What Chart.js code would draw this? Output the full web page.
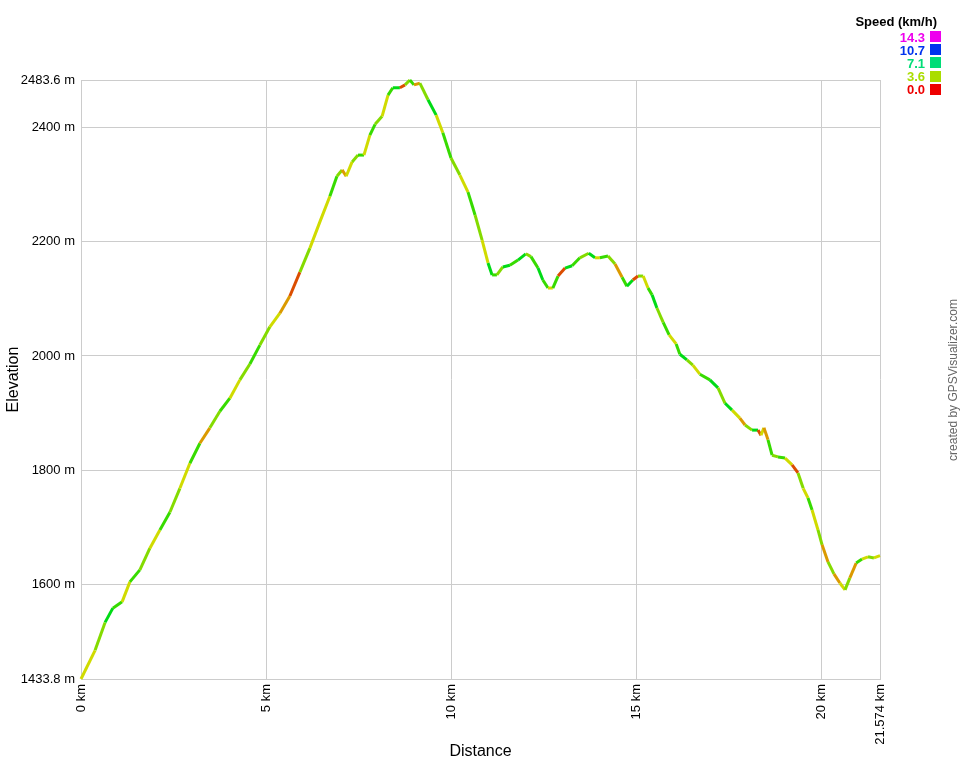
<!DOCTYPE html>
<html>
<head>
<meta charset="utf-8">
<script src="https://cdn.jsdelivr.net/npm/chart.js@4"></script>
<style>
  html, body { margin: 0; padding: 0; background: #fff; }
  #wrap { width: 960px; height: 760px; }
</style>
</head>
<body>
<div id="wrap"><canvas id="myChart" width="960" height="760"></canvas></div>
<script>
// distance along the track (km)
var distKm = [0,0.38,0.65,0.86,1.11,1.32,1.59,1.86,2.13,2.40,
  2.67,2.94,3.21,3.48,3.75,4.02,4.29,4.56,4.83,5.10,
  5.37,5.64,5.91,6.18,6.45,6.72,6.91,7.05,7.16,7.32,
  7.48,7.64,7.80,7.94,8.13,8.29,8.42,8.61,8.75,8.88,
  8.99,9.15,9.37,9.59,9.77,9.99,10.23,10.45,10.64,10.83,
  10.99,11.10,11.23,11.39,11.58,11.80,12.01,12.15,12.34,12.47,
  12.61,12.74,12.88,13.07,13.26,13.47,13.71,13.88,14.01,14.23,
  14.42,14.61,14.74,14.90,15.04,15.18,15.31,15.42,15.55,15.72,
  15.88,16.07,16.17,16.36,16.52,16.71,16.98,17.20,17.39,17.58,
  17.79,17.93,18.12,18.28,18.36,18.44,18.55,18.66,18.82,19.01,
  19.20,19.36,19.50,19.63,19.74,19.90,20.01,20.17,20.33,20.49,
  20.63,20.76,20.93,21.09,21.25,21.41,21.574];

// elevation (m)
var elevM = [1433.8,1484,1533,1558,1569,1604,1625,1663,1695,1726,
  1768,1812,1847,1874,1903,1926,1958,1986,2019,2051,
  2075,2105,2147,2189,2235,2280,2315,2326,2315,2340,
  2352,2352,2387,2406,2420,2457,2470,2470,2475,2483.6,
  2475,2478,2449,2422,2391,2347,2317,2287,2247,2203,
  2163,2142,2142,2156,2159,2168,2179,2174,2154,2133,
  2119,2119,2140,2154,2158,2172,2180,2172,2172,2175,
  2161,2138,2122,2133,2140,2140,2119,2107,2084,2059,
  2037,2021,2003,1993,1984,1968,1958,1944,1917,1905,
  1891,1879,1870,1870,1861,1874,1853,1826,1823,1821,
  1809,1795,1768,1751,1730,1695,1669,1639,1618,1602,
  1590,1611,1637,1644,1648,1646,1650];

// speed (km/h) at each point, used for line colour
var speedKmh = [5,3,4,6,5,3,5,4,3,5,
  4,3,5,2,4,5,3,4,5,4,
  3,2,1,4,3,3,5,4,2,3,
  4,5,3,5,4,3,5,6,1,4,
  5,2,4,6,3,5,4,3,5,4,
  3,6,5,4,6,5,6,4,5,6,
  5,3,5,1,6,5,4,6,3,5,
  4,2,5,6,1,4,3,5,6,4,
  5,3,5,6,4,3,5,6,4,6,
  3,2,4,6,1,3,2,5,4,5,
  3,1,4,3,5,3,4,2,4,2,
  3,4,2,5,3,4,3];

var xTicks = [0, 5, 10, 15, 20, 21.574];
var yTicks = [1433.8, 1600, 1800, 2000, 2200, 2400, 2483.6];

var legendLabels = ['14.3', '10.7', '7.1', '3.6', '0.0'];
var legendColors = ['#ee00ee', '#0033ee', '#00dd77', '#aadd00', '#ee0000'];

var FONT = '"Liberation Sans", Arial, sans-serif';

function speedColor(s) {
  var hue = Math.max(0, Math.min(300, s * 21));
  return 'hsl(' + hue + ',100%,43%)';
}

var points = distKm.map(function (d, i) { return { x: d, y: elevM[i] }; });

var extras = {
  id: 'extras',
  afterDraw: function (chart) {
    var c = chart.ctx;
    c.save();
    c.font = 'bold 13px ' + FONT;
    c.fillStyle = '#000';
    c.textAlign = 'right';
    c.textBaseline = 'alphabetic';
    c.fillText('Speed (km/h)', 937, 26);
    legendLabels.forEach(function (lbl, i) {
      var y = 31 + i * 13.2;
      c.fillStyle = legendColors[i];
      c.fillText(lbl, 925, y + 10.5);
      c.fillRect(930, Math.round(y), 11, 11);
    });
    c.font = '12px ' + FONT;
    c.fillStyle = '#666';
    c.textAlign = 'center';
    c.textBaseline = 'middle';
    c.translate(954, 380);
    c.rotate(-Math.PI / 2);
    c.fillText('created by GPSVisualizer.com', 0, 0);
    c.restore();
  }
};

var ctx = document.getElementById('myChart').getContext('2d');
var myChart = new Chart(ctx, {
  type: 'line',
  data: {
    datasets: [{
      data: points,
      borderWidth: 3,
      pointRadius: 0,
      tension: 0,
      clip: 6,
      borderColor: '#33dd00',
      segment: {
        borderColor: function (sc) { return speedColor(speedKmh[sc.p1DataIndex]); }
      }
    }]
  },
  options: {
    responsive: false,
    animation: false,
    layout: { padding: { left: 0, right: 80, top: 80, bottom: 0 } },
    plugins: { legend: { display: false }, tooltip: { enabled: false } },
    scales: {
      x: {
        type: 'linear',
        min: 0,
        max: 21.574,
        afterBuildTicks: function (s) { s.ticks = xTicks.map(function (v) { return { value: v }; }); },
        afterFit: function (s) { s.height = 81; },
        grid: { color: '#cccccc', drawTicks: false },
        border: { color: '#cccccc' },
        ticks: {
          minRotation: 90, maxRotation: 90, padding: 5, color: '#000',
          font: { family: FONT, size: 13 },
          callback: function (v) { return v + ' km'; }
        },
        title: { display: true, text: 'Distance', color: '#000', padding: 0, font: { family: FONT, size: 16, lineHeight: 1 } }
      },
      y: {
        type: 'linear',
        min: 1433.8,
        max: 2483.6,
        afterBuildTicks: function (s) { s.ticks = yTicks.map(function (v) { return { value: v }; }); },
        afterFit: function (s) { s.width = 81; },
        grid: { color: '#cccccc', drawTicks: false },
        border: { color: '#cccccc' },
        ticks: {
          padding: 6, color: '#000',
          font: { family: FONT, size: 13 },
          callback: function (v) { return v + ' m'; }
        },
        title: { display: true, text: 'Elevation', color: '#000', padding: 4, font: { family: FONT, size: 16 } }
      }
    }
  },
  plugins: [extras]
});
</script>
</body>
</html>
